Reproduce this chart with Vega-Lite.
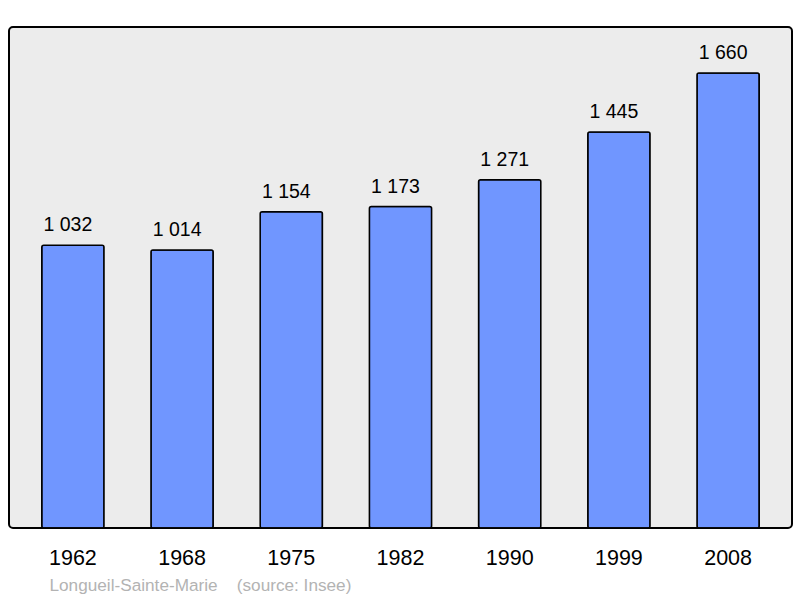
{
  "$schema": "https://vega.github.io/schema/vega-lite/v6.json",
  "width": 783,
  "height": 501,
  "autosize": {"type": "none"},
  "padding": {"left": 9, "top": 27, "right": 8, "bottom": 70},
  "background": "#ffffff",
  "config": {
    "font": "Liberation Sans",
    "locale": {"number": {"decimal": ",", "thousands": " ", "grouping": [3], "currency": ["", " €"]}},
    "view": {"fill": "#ececec", "stroke": "#000000", "strokeWidth": 2, "cornerRadius": 4}
  },
  "data": {
    "values": [
      {"year": "1962", "population": 1032},
      {"year": "1968", "population": 1014},
      {"year": "1975", "population": 1154},
      {"year": "1982", "population": 1173},
      {"year": "1990", "population": 1271},
      {"year": "1999", "population": 1445},
      {"year": "2008", "population": 1660}
    ]
  },
  "encoding": {
    "x": {
      "field": "year",
      "type": "nominal",
      "sort": null,
      "scale": {"paddingInner": 0.43, "paddingOuter": 0.3},
      "axis": {
        "title": "Longueil-Sainte-Marie\u00a0\u00a0\u00a0\u00a0(source: Insee)",
        "titleFont": "Liberation Sans",
        "titleFontSize": 17.2,
        "titleFontWeight": "normal",
        "titleColor": "#b3b3b3",
        "titleAnchor": "start",
        "titleAlign": "left",
        "titleBaseline": "alphabetic",
        "titleX": 40,
        "titleY": 62,
        "domain": false,
        "ticks": false,
        "labelAngle": 0,
        "labelFontSize": 21.5,
        "labelColor": "#000000",
        "labelBaseline": "alphabetic",
        "labelPadding": 36
      }
    },
    "y": {
      "field": "population",
      "type": "quantitative",
      "scale": {"domain": [0, 1828], "nice": false, "zero": true},
      "axis": null
    }
  },
  "layer": [
    {
      "mark": {"type": "bar", "fill": "#7096ff", "stroke": "#000000", "strokeWidth": 1.5, "cornerRadius": 2}
    },
    {
      "mark": {"type": "text", "baseline": "alphabetic", "dy": -14, "dx": -5, "fontSize": 19.5, "color": "#000000", "font": "Liberation Sans"},
      "encoding": {
        "text": {"field": "population", "type": "quantitative", "format": ",d"}
      }
    }
  ]
}
